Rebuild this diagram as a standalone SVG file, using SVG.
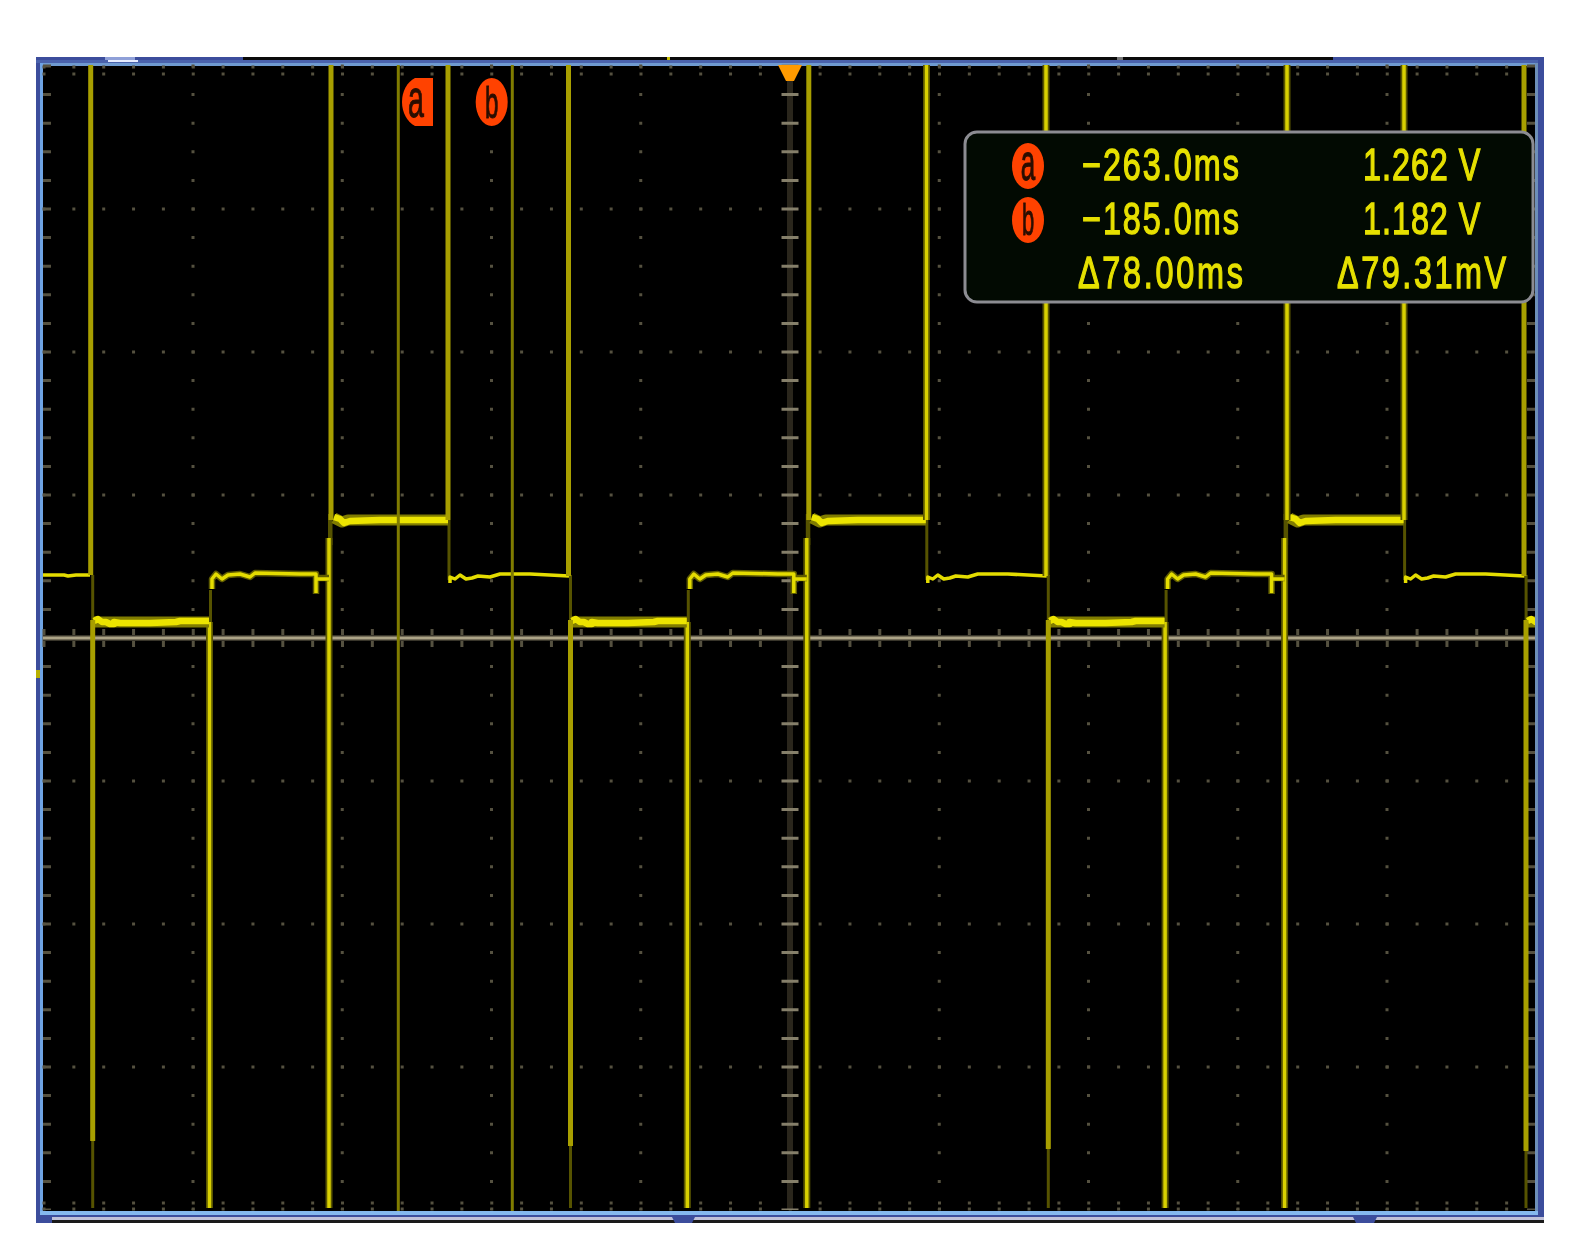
<svg xmlns="http://www.w3.org/2000/svg" xmlns:xlink="http://www.w3.org/1999/xlink" width="1571" height="1259" viewBox="0 0 1571 1259">
<style>
.tick{fill:none;stroke:#55513f;stroke-width:3}
.htick{stroke-dasharray:3 26.85}
.vtick{stroke-dasharray:3 25.6}
.halo{fill:none;stroke:#5a5600;stroke-width:7}
.bright{fill:none;stroke:#d8d000;stroke-width:3.5}
.olive{fill:none;stroke:#a89f00;stroke-width:5}
.dim{fill:none;stroke:#565200;stroke-width:3}
.cursor{fill:none;stroke:#807b00;stroke-width:3}
.lvl{fill:none;stroke:#e4dc00;stroke-width:3.500;stroke-linejoin:round}
.lvlh{fill:none;stroke:#5f5b00;stroke-width:6.500;stroke-linejoin:round}
.thick{fill:none;stroke:#ece400;stroke-width:6.500;stroke-linejoin:round}
.thickh{fill:none;stroke:#807c00;stroke-width:11;stroke-linejoin:round}
.rd{font-family:"Liberation Sans",Arial,sans-serif;font-size:45px;fill:#e6e000;stroke:#e6e000;stroke-width:1.300}
.bdg{fill:#ff4200}
.bla{font-family:"Liberation Sans",Arial,sans-serif;font-size:52px;fill:#2a0e00;stroke:#2a0e00;stroke-width:1;text-anchor:middle}
.blb{font-family:"Liberation Sans",Arial,sans-serif;font-size:44px;fill:#2a0e00;stroke:#2a0e00;stroke-width:1;text-anchor:middle}
</style>
<defs>
<filter id="soft" x="-2%" y="-2%" width="104%" height="104%"><feGaussianBlur stdDeviation="0.6"/></filter>
<filter id="softt" x="-5%" y="-5%" width="110%" height="110%"><feGaussianBlur stdDeviation="0.7"/></filter>
<clipPath id="plot"><rect x="43" y="65" width="1492" height="1146"/></clipPath>
<g id="cycle">
<path class="dim" d="M92.700 575V620M210.500 590V622M331 520V545M329.500 538V514M449 520V580"/>
<path class="halo" d="M209.500 622V1208M329 538V1208"/>
<path class="bright" d="M209.500 622V1208M329 538V1208"/>
<path class="thickh" d="M94 622H209"/>
<path class="thick" d="M94 621L98 619L102 622H106L110 624H114V622L120 623H150L176 622L180 621H209"/>
<path class="lvlh" d="M212 589V579L216 574L222 579L228 575L240 574L250 577L255 573L300 574L316 574V594M317 578H329"/>
<path class="lvl" d="M212 589V579L216 574L222 579L228 575L240 574L250 577L255 573L300 574L316 574V593M317 579H329"/>
<path class="thickh" d="M334 518L342 522L348 520H448"/>
<path class="thick" d="M334 517L340 519L344 523L350 521L380 520L448 520"/>
<path class="lvl" d="M450 583V577L455 579L460 575L466 579L472 578L478 576L490 577L500 574H530L569 576"/>
</g>
</defs>
<rect width="1571" height="1259" fill="#fff"/>
<g id="frame">
<rect x="36" y="57" width="1508" height="1166" fill="#3c4d9c"/>
<rect x="243" y="57" width="1090" height="3" fill="#0a0a0a"/>
<rect x="36" y="60" width="1502" height="3" fill="#4a62ac"/>
<rect x="40" y="63" width="1498" height="3" fill="#6f9ad0"/>
<rect x="40" y="63" width="3" height="1152" fill="#6fa4e4"/>
<rect x="1535" y="63" width="3" height="1152" fill="#6d8fb8"/>
<rect x="40" y="1211" width="1498" height="4" fill="#85b8ee"/>
<rect x="52" y="1217" width="1492" height="3" fill="#bfc0d8"/>
<rect x="52" y="1220" width="1492" height="3" fill="#1a1a1a"/>
<path d="M671 1215H696L692 1223H675ZM1352 1215H1378L1374 1223H1356Z" fill="#3c4d9c"/>
<rect x="105" y="57" width="30" height="3" fill="#8fa0d8"/>
<rect x="108" y="60" width="30" height="2" fill="#e6ecff"/>
<rect x="36" y="670" width="4" height="8" fill="#b8b000"/>
<rect x="667" y="57" width="3" height="3" fill="#c8c000"/>
<rect x="1117" y="57" width="6" height="3" fill="#777"/>
<rect x="43" y="66" width="1492" height="1145" fill="#000"/>
</g>
<g id="graticule" filter="url(#soft)">
<path class="tick htick" d="M42.500 209H1535M42.500 352H1535M42.500 495H1535M42.500 781H1535M42.500 924H1535M42.500 1067H1535"/>
<path class="tick vtick" d="M193 64.500V1210M342.250 64.500V1210M491.500 64.500V1210M640.750 64.500V1210M939.250 64.500V1210M1088.500 64.500V1210M1237.750 64.500V1210M1387 64.500V1210"/>
<path class="tick htick" d="M42.500 67H1535M42.500 74H1535M42.500 1203H1535M42.500 1209H1535"/>
<path class="tick vtick" style="stroke-width:8" d="M47 64.500V1210M1531 64.500V1210"/>
<path class="tick htick" style="stroke-width:18" d="M42.500 638H1535"/>
<path d="M790 66V1210" fill="none" stroke="#2b281f" stroke-width="6"/>
<path d="M790 64.500V1210" fill="none" stroke="#857f6a" stroke-width="17" stroke-dasharray="3 25.6"/>
<path d="M43 638H1535" fill="none" stroke="#38352b" stroke-width="6"/>
<path d="M43 638H1535" fill="none" stroke="#ada487" stroke-width="3"/>
<path d="M778 65H802L794 81H786Z" fill="#ff9a00"/>
</g>
<g id="trace" clip-path="url(#plot)" filter="url(#soft)">
<path class="lvl" d="M43 575H64L68 576L76 575H90"/>
<use xlink:href="#cycle" href="#cycle"/>
<use xlink:href="#cycle" href="#cycle" x="477.800"/>
<use xlink:href="#cycle" href="#cycle" x="955.600"/>
<use xlink:href="#cycle" href="#cycle" x="1433.400"/>
<path class="olive" d="M90.700 65V575M331 65V520M448 65V520M568.500 65V576M808.800 65V520M1524 65V576"/>
<path class="halo" d="M926.500 65V520M1046 65V576M1287 65V520M1404 65V520"/>
<path class="bright" d="M926.500 65V520M1046 65V576M1287 65V520M1404 65V520"/>
<path class="olive" d="M92.700 620V1141M570.500 620V1146M1048.300 620V1149M1526 620V1151"/>
<path class="dim" d="M92.700 1141V1208M570.500 1146V1208M1048.300 1149V1208M1526 1151V1208"/>
</g>
<g id="cursors" filter="url(#soft)">
<path class="cursor" d="M398.300 65V1211M512.300 65V1211"/>
</g>
<g id="cursor-a" filter="url(#soft)">
<path class="bdg" d="M433 78V126H415C407 122 402 112 402 102C402 91 407 82 415 78Z"/>
<text class="bla" transform="translate(416 117) scale(.55 1)">a</text>
</g>
<g id="cursor-b" filter="url(#soft)">
<ellipse class="bdg" cx="491.700" cy="102" rx="16" ry="24"/>
<text class="blb" transform="translate(491.700 118) scale(.55 1)">b</text>
</g>
<g id="readout">
<rect x="965" y="132" width="568" height="170" rx="12" fill="#020a02" stroke="#8c8c92" stroke-width="3"/>
<g filter="url(#soft)">
<ellipse class="bdg" cx="1028" cy="166" rx="16" ry="23"/>
<text class="bla" transform="translate(1028 180) scale(.5 1)">a</text>
<ellipse class="bdg" cx="1028" cy="220" rx="16" ry="23"/>
<text class="blb" transform="translate(1028 235) scale(.5 1)">b</text>
</g>
<g filter="url(#softt)">
<text class="rd" transform="translate(1082 180) scale(.72 1)" textLength="218" lengthAdjust="spacing">−263.0ms</text>
<text class="rd" transform="translate(1363 180) scale(.72 1)" textLength="163" lengthAdjust="spacing">1.262 V</text>
<text class="rd" transform="translate(1082 234) scale(.72 1)" textLength="218" lengthAdjust="spacing">−185.0ms</text>
<text class="rd" transform="translate(1363 234) scale(.72 1)" textLength="163" lengthAdjust="spacing">1.182 V</text>
<text class="rd" transform="translate(1078 288) scale(.72 1)" textLength="229" lengthAdjust="spacing">Δ78.00ms</text>
<text class="rd" transform="translate(1337 288) scale(.72 1)" textLength="235" lengthAdjust="spacing">Δ79.31mV</text>
</g>
</g>
</svg>
